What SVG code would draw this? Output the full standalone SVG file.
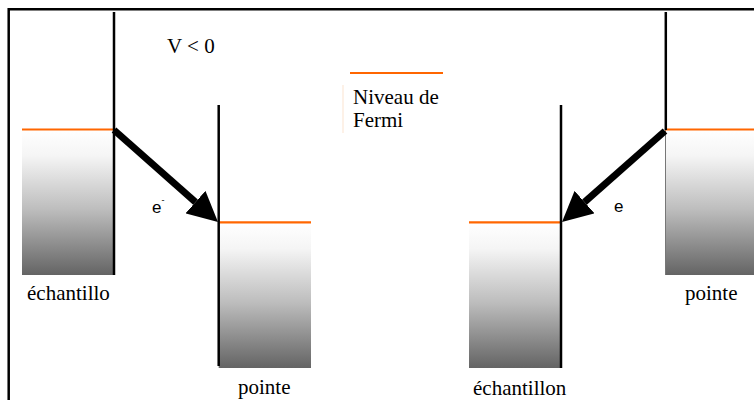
<svg xmlns="http://www.w3.org/2000/svg" width="754" height="400" viewBox="0 0 754 400">
  <defs>
    <linearGradient id="band" x1="0" y1="0" x2="0" y2="1">
      <stop offset="0" stop-color="#ffffff"/>
      <stop offset="0.18" stop-color="#f5f5f5"/>
      <stop offset="0.55" stop-color="#bdbdbd"/>
      <stop offset="1" stop-color="#646464"/>
    </linearGradient>
    <marker id="head" viewBox="0 0 30 30" refX="0" refY="15" markerWidth="30" markerHeight="30" markerUnits="userSpaceOnUse" orient="auto">
      <path d="M0,0 L30,15 L0,30 z" fill="#000"/>
    </marker>
  </defs>
  <style>
    .band { fill: url(#band); }
    .wall { stroke: #000; stroke-width: 2.5; fill: none; }
    .fermi { stroke: #ff6600; stroke-width: 2.2; fill: none; }
    .lbl { font-family: 'Liberation Serif', 'DejaVu Serif', serif; font-size: 21px; fill: #000; }
    .e { font-family: 'Liberation Sans', sans-serif; font-size: 17px; fill: #000; }
    .arrow { stroke: #000; stroke-width: 7; fill: none; marker-end: url(#head); }
  </style>
  <rect width="754" height="400" fill="#fff"/>
  <path d="M8.7,400 V9.2 H754" stroke="#000" stroke-width="2.5" fill="none"/>

  <g id="echantillon-left">
    <rect class="band" x="22" y="129.5" width="92" height="145.5"/>
    <line class="fermi" x1="22" y1="129.5" x2="114" y2="129.5"/>
    <line class="wall" x1="114" y1="12" x2="114" y2="275"/>
    <text class="lbl" font-family="Liberation Serif, serif" x="27" y="300">échantillo</text>
  </g>

  <g id="pointe-left">
    <rect class="band" x="218.7" y="222.3" width="92.3" height="145.7"/>
    <line class="fermi" x1="218.7" y1="222.3" x2="311" y2="222.3"/>
    <line class="wall" x1="218.7" y1="105" x2="218.7" y2="366"/>
    <text class="lbl" font-family="Liberation Serif, serif" x="238" y="394">pointe</text>
  </g>

  <g id="echantillon-right">
    <rect class="band" x="469" y="222.3" width="92" height="145.7"/>
    <line class="fermi" x1="469" y1="222.3" x2="561" y2="222.3"/>
    <line class="wall" x1="561" y1="105" x2="561" y2="368"/>
    <text class="lbl" font-family="Liberation Serif, serif" x="473" y="395">échantillon</text>
  </g>

  <g id="pointe-right">
    <rect class="band" x="665" y="129.5" width="89" height="145.5"/>
    <line x1="665.5" y1="129.5" x2="665.5" y2="275" stroke="#777" stroke-width="1"/>
    <line class="fermi" x1="665" y1="129.5" x2="754" y2="129.5"/>
    <line class="wall" x1="665.8" y1="12" x2="665.8" y2="130"/>
    <text class="lbl" font-family="Liberation Serif, serif" x="685" y="300">pointe</text>
  </g>

  <g id="titre">
    <text class="lbl" font-family="Liberation Serif, serif" x="167" y="53">V &lt; 0</text>
  </g>

  <g id="legende">
    <line class="fermi" x1="350" y1="73" x2="443" y2="73" stroke="#fa8a4a"/>
    <line x1="343" y1="85" x2="343" y2="133" stroke="#fbe3cf" stroke-width="1"/>
    <text class="lbl" font-family="Liberation Serif, serif" x="353" y="104">Niveau de</text>
    <text class="lbl" font-family="Liberation Serif, serif" x="353" y="127">Fermi</text>
  </g>

  <g id="connectors">
    <line class="arrow" x1="114" y1="130" x2="195.5" y2="202.1"/>
    <text class="e" x="152" y="213">e<tspan dy="-10" font-size="9">-</tspan></text>
    <line class="arrow" x1="665" y1="131" x2="584.5" y2="202.1"/>
    <text class="e" x="614" y="212">e</text>
  </g>
</svg>
